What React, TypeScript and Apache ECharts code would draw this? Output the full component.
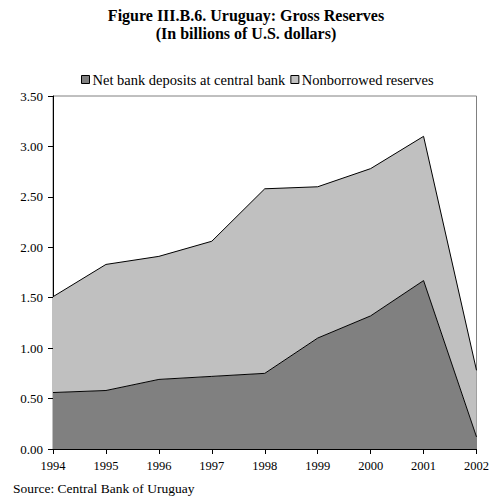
import * as echarts from 'echarts';
import { useEffect, useRef } from 'react';

const years = ['1994', '1995', '1996', '1997', '1998', '1999', '2000', '2001', '2002'];
const netDeposits = [0.56, 0.58, 0.69, 0.72, 0.75, 1.1, 1.32, 1.67, 0.12];
const nonborrowed = [0.95, 1.25, 1.22, 1.34, 1.83, 1.5, 1.46, 1.43, 0.66];

const FONT = '"Liberation Serif", "Times New Roman", serif';

const App = () => {
    const chartRef = useRef<HTMLDivElement>(null);

    useEffect(() => {
        if (!chartRef.current) return;
        const chart = echarts.init(chartRef.current, undefined, { renderer: 'svg' });

        chart.setOption({
            animation: false,
            textStyle: { fontFamily: FONT, color: '#000' },
            title: {
                text: 'Figure III.B.6. Uruguay: Gross Reserves\n(In billions of U.S. dollars)',
                left: 'center',
                top: 1,
                padding: [5, 0, 5, 14],
                textStyle: { fontFamily: FONT, fontSize: 16, fontWeight: 'bold', color: '#000', lineHeight: 18 },
            },
            legend: {
                top: 67,
                left: 76,
                itemGap: 5,
                itemWidth: 8,
                itemHeight: 8,
                icon: 'rect',
                textStyle: { fontFamily: FONT, fontSize: 14.5, color: '#000', padding: [0, 0, 0, -2] },
                data: [
                    { name: 'Net bank deposits at central bank', itemStyle: { color: '#808080', borderColor: '#000', borderWidth: 1 } },
                    { name: 'Nonborrowed reserves', itemStyle: { color: '#c0c0c0', borderColor: '#000', borderWidth: 1 } },
                ],
            },
            graphic: [
                {
                    type: 'text',
                    left: 13,
                    top: 481,
                    style: { text: 'Source: Central Bank of Uruguay', font: `13.5px ${FONT}`, fill: '#000' },
                },
            ],
            grid: { left: 53, right: 11, top: 96, bottom: 48, show: true, borderColor: '#808080', borderWidth: 1 },
            xAxis: {
                type: 'category',
                data: years,
                boundaryGap: false,
                axisLine: { lineStyle: { color: '#000', width: 1 } },
                axisTick: { show: true, length: 5, lineStyle: { color: '#000' } },
                axisLabel: { fontFamily: FONT, fontSize: 12.5, color: '#000', margin: 10 },
                splitLine: { show: false },
            },
            yAxis: {
                type: 'value',
                min: 0,
                max: 3.5,
                interval: 0.5,
                axisLine: { show: true, lineStyle: { color: '#000', width: 1 } },
                axisTick: { show: true, length: 5, lineStyle: { color: '#000' } },
                axisLabel: { fontFamily: FONT, fontSize: 13, color: '#000', margin: 10, formatter: (v: number) => v.toFixed(2) },
                splitLine: { show: false },
            },
            series: [
                {
                    name: 'Net bank deposits at central bank',
                    type: 'line',
                    stack: 'total',
                    data: netDeposits,
                    showSymbol: false,
                    lineStyle: { color: '#000', width: 1 },
                    itemStyle: { color: '#808080' },
                    areaStyle: { color: '#808080', opacity: 1 },
                },
                {
                    name: 'Nonborrowed reserves',
                    type: 'line',
                    stack: 'total',
                    data: nonborrowed,
                    showSymbol: false,
                    lineStyle: { color: '#000', width: 1 },
                    itemStyle: { color: '#c0c0c0' },
                    areaStyle: { color: '#c0c0c0', opacity: 1 },
                },
            ],
        });

        return () => chart.dispose();
    }, []);

    return <div ref={chartRef} style={{ position: 'absolute', left: 0, top: 0, width: 492, height: 497 }} />;
};

export default App;
